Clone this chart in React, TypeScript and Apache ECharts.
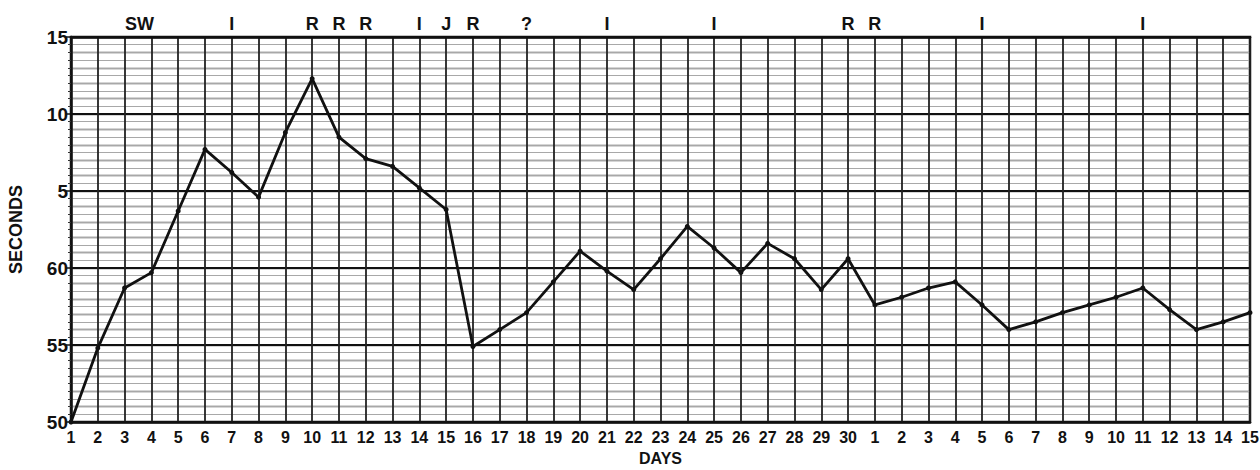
import React, { useEffect, useRef } from "react";
import * as echarts from "echarts";

const dayLabels = [
  "1", "2", "3", "4", "5", "6", "7", "8", "9", "10",
  "11", "12", "13", "14", "15", "16", "17", "18", "19", "20",
  "21", "22", "23", "24", "25", "26", "27", "28", "29", "30",
  "1", "2", "3", "4", "5", "6", "7", "8", "9", "10",
  "11", "12", "13", "14", "15",
];

const seconds = [
  50, 54.8, 58.7, 59.7, 63.7, 67.7, 66.2, 64.6, 68.8, 72.3,
  68.5, 67.1, 66.6, 65.2, 63.8, 54.9, 56.0, 57.1, 59.1, 61.1,
  59.8, 58.6, 60.6, 62.7, 61.3, 59.7, 61.6, 60.6, 58.6, 60.6,
  57.6, 58.1, 58.7, 59.1, 57.6, 56.0, 56.5, 57.1, 57.6, 58.1,
  58.7, 57.3, 56.0, 56.5, 57.1,
];

const annotations = [
  "", "", "SW", "", "", "", "I", "", "", "R",
  "R", "R", "", "I", "J", "R", "", "?", "", "",
  "I", "", "", "", "I", "", "", "", "", "R",
  "R", "", "", "", "I", "", "", "", "", "",
  "I", "", "", "", "",
];

const yTickValues = [50, 55, 60, 65, 70, 75];
const yTickLabels = ["50", "55", "60", "5", "10", "15"];

const FONT = "Liberation Sans";

export default function App() {
  const ref = useRef<HTMLDivElement>(null);
  useEffect(() => {
    document.body.style.margin = "0";
    const chart = echarts.init(ref.current!, null, { renderer: "svg" });
    chart.setOption({
      animation: false,
      backgroundColor: "#ffffff",
      grid: {
        left: 71,
        right: 10,
        top: 37,
        bottom: 48,
        containLabel: false,
        outerBoundsMode: "none",
        show: true,
        borderColor: "#111",
        borderWidth: 2.5,
        backgroundColor: "transparent",
      },
      xAxis: [
        {
          type: "category",
          data: dayLabels,
          boundaryGap: false,
          position: "bottom",
          name: "DAYS",
          nameLocation: "middle",
          nameGap: 28,
          nameTextStyle: { fontFamily: FONT, fontWeight: "bold", fontSize: 16, color: "#111" },
          axisLine: { show: true, lineStyle: { color: "#111", width: 2.5 } },
          axisTick: { show: false },
          axisLabel: {
            interval: 0,
            margin: 7,
            fontFamily: FONT,
            fontWeight: "bold",
            fontSize: 16,
            color: "#111",
          },
          splitLine: { show: true, interval: 0, lineStyle: { color: "#222", width: 1.8 } },
        },
        {
          type: "category",
          data: annotations,
          boundaryGap: false,
          position: "top",
          axisLine: { show: true, lineStyle: { color: "#111", width: 2.5 } },
          axisTick: { show: false },
          axisLabel: {
            interval: 0,
            margin: 4,
            fontFamily: FONT,
            fontWeight: "bold",
            fontSize: 18,
            color: "#111",
            formatter: (v: string) => (v === "SW" ? "{sw|SW}" : v),
            rich: {
              sw: {
                fontFamily: FONT,
                fontWeight: "bold",
                fontSize: 18,
                color: "#111",
                padding: [0, 0, 0, 30],
              },
            },
          },
          splitLine: { show: false },
        },
      ],
      yAxis: [
        {
          type: "value",
          min: 50,
          max: 75,
          interval: 1,
          position: "right",
          axisLine: { show: false },
          axisTick: { show: false },
          axisLabel: { show: false },
          splitLine: { show: true, lineStyle: { color: "#5a5a5a", width: 1.3 } },
        },
        {
          type: "value",
          min: 50,
          max: 75,
          interval: 5,
          position: "left",
          name: "SECONDS",
          nameLocation: "middle",
          nameGap: 46,
          nameRotate: 90,
          nameTextStyle: { fontFamily: FONT, fontWeight: "bold", fontSize: 18, color: "#111" },
          axisLine: { show: true, lineStyle: { color: "#111", width: 2.5 } },
          axisTick: { show: true, inside: false, length: 5, lineStyle: { color: "#111", width: 1.5 } },
          minorTick: { show: true, splitNumber: 10, length: 3, lineStyle: { color: "#333", width: 1 } },
          minorSplitLine: { show: true, lineStyle: { color: "#a8a8a8", width: 1 } },
          axisLabel: {
            margin: 3,
            fontFamily: FONT,
            fontWeight: "bold",
            fontSize: 19,
            color: "#111",
            formatter: (v: number) => {
              const i = yTickValues.indexOf(v);
              return i >= 0 ? yTickLabels[i] : "";
            },
          },
          splitLine: { show: true, lineStyle: { color: "#111", width: 2.2 } },
        },
      ],
      series: [
        {
          type: "line",
          xAxisIndex: 0,
          yAxisIndex: 1,
          data: seconds,
          symbol: "circle",
          symbolSize: 5,
          showSymbol: true,
          lineStyle: { color: "#111", width: 2.8 },
          itemStyle: { color: "#111" },
          z: 10,
        },
      ],
    });
    return () => chart.dispose();
  }, []);
  return <div ref={ref} style={{ width: 1260, height: 470 }} />;
}
